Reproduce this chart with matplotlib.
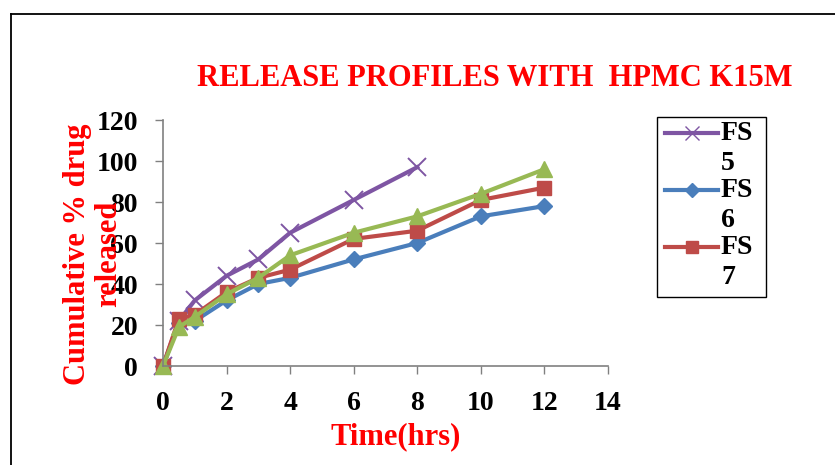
import numpy as np
import matplotlib.pyplot as plt
from matplotlib.lines import Line2D
from matplotlib.patches import Rectangle

#%% data
t5 = [0, 0.5, 1, 2, 3, 4, 6, 8]
fs5 = [0, 22, 32, 44, 52, 65, 81, 97]
t = [0, 0.5, 1, 2, 3, 4, 6, 8, 10, 12]
fs6 = [0, 21, 22, 32, 40, 43, 52, 60, 73, 78]
fs7 = [0, 23, 25, 36, 43, 47, 62, 66, 81, 87]
fs8 = [0, 19, 24, 35, 43, 54, 65, 73, 84, 96]
xticks = [0, 2, 4, 6, 8, 10, 12, 14]
yticks = [0, 20, 40, 60, 80, 100, 120]

plt.rcParams['font.family'] = ['Liberation Serif', 'DejaVu Serif']

W, H = 835, 465
fig = plt.figure(figsize=(W/100, H/100), dpi=100)
ax = fig.add_axes([163/W, 1-366/H, (608-163)/W, (366-120)/H])
tf = fig.transFigure

def fx(px):
    return px/W

def fy(py):
    return 1-py/H

# outer frame (partially cut)
fig.add_artist(Line2D([fx(11), fx(11)], [0, fy(14)], color='k', lw=1.3, transform=tf))
fig.add_artist(Line2D([fx(11), 1], [fy(14), fy(14)], color='k', lw=1.3, transform=tf))

c5, c6, c7, c8 = '#7e55a3', '#4a7ebb', '#be4b48', '#98b954'
l5, = ax.plot(t5, fs5, '-x', color=c5, lw=3, ms=13, mew=1.4)
l6, = ax.plot(t, fs6, '-D', color=c6, lw=3, ms=8)
l7, = ax.plot(t, fs7, '-s', color=c7, lw=3, ms=10)
l8, = ax.plot(t, fs8, '-^', color=c8, lw=3, ms=11)
for ln in [l5, l6, l7, l8]:
    ln.set_clip_on(False)

ax.set(xlim=(0, 14), ylim=(0, 120))
ax.set_xticks(xticks)
ax.set_yticks(yticks)
ax.tick_params(axis='both', direction='out', color='#808080', length=6, width=1,
               labelsize=20)
ax.tick_params(axis='x', pad=12)
ax.tick_params(axis='y', pad=12)
for lb in ax.get_xticklabels() + ax.get_yticklabels():
    lb.set_fontweight('bold')
for s in ['top', 'right']:
    ax.spines[s].set_visible(False)
for s in ['left', 'bottom']:
    ax.spines[s].set_color('#808080')
    ax.spines[s].set_linewidth(1.2)

fig.text(fx(495), fy(78), 'RELEASE PROFILES WITH  HPMC K15M', color='red',
         fontsize=22, fontweight='bold', ha='center', va='center')
fig.text(fx(396), fy(437), 'Time(hrs)', color='red', fontsize=22,
         fontweight='bold', ha='center', va='center')
# the y label sits over the tick labels in the original too
fig.text(fx(93), fy(254), 'Cumulative % drug\nreleased', color='red', fontsize=22,
         fontweight='bold', ha='center', va='center', rotation=90,
         linespacing=1.1, multialignment='center')

# legend box (last series does not fit, as in the original)
fig.add_artist(Rectangle((fx(657), fy(297)), fx(766)-fx(657), fy(117)-fy(297),
                         transform=tf, fill=False, ec='k', lw=1))
handles = [(c5, 'x', 10, 'FS', '5'), (c6, 'D', 7, 'FS', '6'), (c7, 's', 9, 'FS', '7')]
for i, (c, m, s, a, b) in enumerate(handles):
    yy = 133 + i*57
    fig.add_artist(Line2D([fx(665), fx(718)], [fy(yy), fy(yy)], color=c, lw=3,
                          transform=tf))
    fig.add_artist(Line2D([fx(691.5)], [fy(yy)], color=c, marker=m, ms=s, mew=1,
                          transform=tf))
    fig.text(fx(721), fy(yy), a, fontsize=20, fontweight='bold', ha='left', va='center')
    fig.text(fx(721), fy(yy+30), b, fontsize=20, fontweight='bold', ha='left', va='center')

plt.savefig('out.png', dpi=100)
